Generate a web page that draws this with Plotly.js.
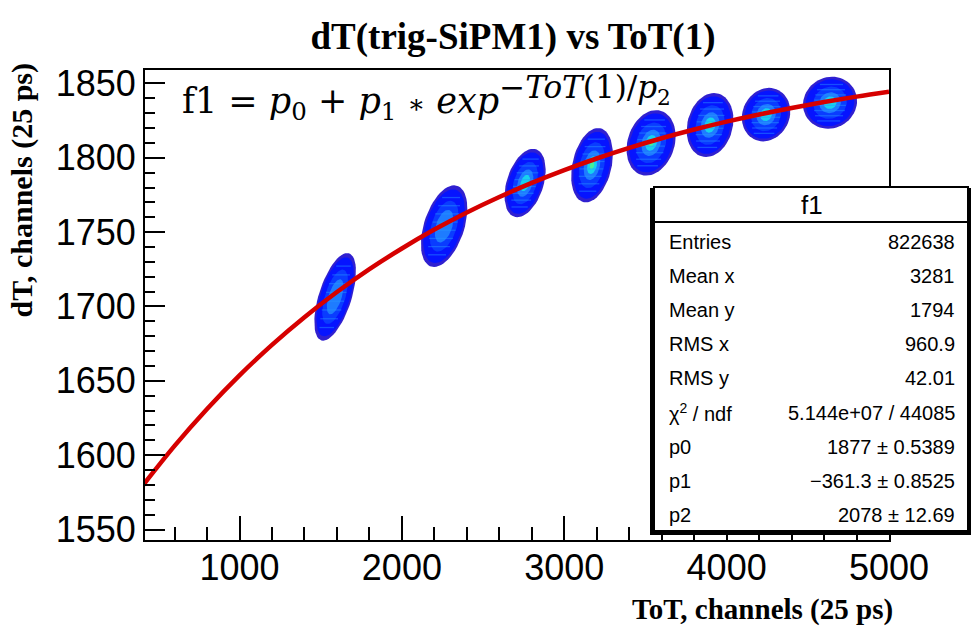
<!DOCTYPE html>
<html>
<head>
<meta charset="utf-8">
<script src="https://cdn.plot.ly/plotly-3.0.1.min.js"></script>
<style>html,body{margin:0;padding:0;background:#fff;}#chart{width:971px;height:630px;}</style>
</head>
<body>
<div id="chart"></div>
<script>
// ---- data ----
const fitX = [400, 600, 800, 1000, 1200, 1400, 1600, 1800, 2000, 2200, 2400, 2600, 2800, 3000, 3200, 3400, 3600, 3800, 4000, 4200, 4400, 4600, 4800, 5000];
const fitY = [1579.0, 1606.3, 1631.1, 1653.7, 1674.2, 1692.8, 1709.7, 1725.1, 1739.0, 1751.7, 1763.2, 1773.6, 1783.1, 1791.7, 1799.5, 1806.6, 1813.1, 1819.0, 1824.3, 1829.1, 1833.5, 1837.5, 1841.1, 1844.4];

// clusters of the 2D histogram
const clusterX = [1589, 2260, 2759, 3171, 3535, 3898, 4243, 4637];
const clusterY = [1706.5, 1754, 1783, 1795, 1810, 1822, 1829, 1837];
const clusterHalfW = [105, 129, 117, 123, 148, 142, 148, 166];
const clusterHalfH = [29.5, 27.5, 23, 25, 22, 21.5, 18, 17.5];
const clusterTilt = [2.5, 2.25, 2.1, 1.5, 1.4, 1.15, 1.0, 0.7];
const clusterPeak = [3, 3, 4, 5, 5, 5, 4, 4];

const statLabels = ["Entries", "Mean x", "Mean y", "RMS x", "RMS y", "χ<sup>2</sup> / ndf", "p0", "p1", "p2"];
const statValues = ["822638", "3281", "1794", "960.9", "42.01", "5.144e+07 / 44085", "1877 ± 0.5389", "−361.3 ± 0.8525", "2078 ± 12.69"];

const xTicks = [1000, 2000, 3000, 4000, 5000];
const yTicks = [1550, 1600, 1650, 1700, 1750, 1800, 1850];

// ---- drawing ----
const layerScale = [1.0, 0.9, 0.62, 0.4, 0.24, 0.11];
const layerColor = ['#3020d0', '#0614ff', '#0a3cff', '#1e7cff', '#16d2ee', '#44f09a'];

const traces = [];
for (let c = 0; c < clusterX.length; c++) {
  for (let l = 0; l <= clusterPeak[c] && l < layerScale.length; l++) {
    const xs = [], ys = [];
    const k = layerScale[l];
    for (let i = 0; i <= 60; i++) {
      const t = 2 * Math.PI * i / 60;
      const dy = clusterHalfH[c] * k * Math.sin(t);
      const dx = clusterHalfW[c] * k * Math.cos(t) + clusterTilt[c] * dy;
      xs.push(clusterX[c] + dx);
      ys.push(clusterY[c] + dy);
    }
    traces.push({
      type: 'scatter', mode: 'lines', x: xs, y: ys, fill: 'toself',
      fillcolor: layerColor[l], line: {width: 0, color: layerColor[l]},
      hoverinfo: 'skip', showlegend: false
    });
  }
  // horizontal bin streaks of the histogram
  const sx = [], sy = [];
  const n = 8;
  for (let j = 0; j < n; j++) {
    const f = -0.7 + 1.4 * j / (n - 1);
    const dy = clusterHalfH[c] * f;
    const half = clusterHalfW[c] * Math.sqrt(1 - f * f) * 0.6;
    const cx = clusterX[c] + clusterTilt[c] * dy;
    sx.push(cx - half, cx + half, null);
    sy.push(clusterY[c] + dy, clusterY[c] + dy, null);
  }
  traces.push({
    type: 'scatter', mode: 'lines', x: sx, y: sy,
    line: {width: 1.3, color: 'rgba(40,150,255,0.45)'},
    hoverinfo: 'skip', showlegend: false
  });
}
traces.push({
  type: 'scatter', mode: 'lines', x: fitX, y: fitY,
  line: {color: '#d60000', width: 4.5, shape: 'spline'},
  hoverinfo: 'skip', showlegend: false
});

// stats box geometry in paper units
const L = 145, R = 889, T = 70, B = 540;
const px = v => (v - L) / (R - L);
const py = v => (B - v) / (B - T);

const shapes = [
  {type: 'rect', xref: 'paper', yref: 'paper', x0: px(650), x1: px(971), y0: py(535), y1: py(188),
   fillcolor: '#000', line: {width: 0}},
  {type: 'rect', xref: 'paper', yref: 'paper', x0: px(654), x1: px(968), y0: py(531), y1: py(187),
   fillcolor: '#fff', line: {width: 2, color: '#000'}},
  {type: 'line', xref: 'paper', yref: 'paper', x0: px(654), x1: px(968), y0: py(222), y1: py(222),
   line: {width: 2, color: '#000'}}
];

const sansF = 'Liberation Sans, Arial, sans-serif';
const serifF = 'Liberation Serif, Times New Roman, serif';
const annotations = [];
annotations.push({xref: 'paper', yref: 'paper', x: px(812), y: py(205), xanchor: 'center', yanchor: 'middle', text: 'f1',
  showarrow: false, font: {family: sansF, size: 26, color: '#000'}});
for (let i = 0; i < statLabels.length; i++) {
  const yy = py(242 + i * 34.1);
  annotations.push({xref: 'paper', yref: 'paper', x: px(667), y: yy, xanchor: 'left', yanchor: 'middle',
    text: statLabels[i], showarrow: false, font: {family: sansF, size: 20, color: '#000'}});
  annotations.push({xref: 'paper', yref: 'paper', x: px(957), y: yy, xanchor: 'right', yanchor: 'middle',
    text: statValues[i], showarrow: false, font: {family: sansF, size: 20, color: '#000'}});
}
annotations.push({xref: 'paper', yref: 'paper', x: px(180), y: py(98), xanchor: 'left', yanchor: 'middle',
  text: 'f1 = <i>p</i><sub>0</sub> + <i>p</i><sub>1</sub> <span style="font-size:26px">∗</span> <i>exp</i><sup><span style="font-size:31px">−<i>ToT</i>(1)/<i>p</i><sub>2</sub></span></sup>',
  showarrow: false, font: {family: 'DejaVu Serif, serif', size: 35, color: '#000'}});
annotations.push({xref: 'paper', yref: 'paper', x: px(895), y: py(609), xanchor: 'right', yanchor: 'middle',
  text: '<b>ToT, channels (25 ps)</b>', showarrow: false,
  font: {family: serifF, size: 29, color: '#000'}});
annotations.push({xref: 'paper', yref: 'paper', x: px(22), y: py(61), xanchor: 'center', yanchor: 'top',
  text: '<b>dT, channels (25 ps)</b>', textangle: -90, showarrow: false,
  font: {family: serifF, size: 30, color: '#000'}});

const layout = {
  width: 971, height: 630,
  margin: {l: L, r: 971 - R, t: T, b: 630 - B},
  paper_bgcolor: '#fff', plot_bgcolor: '#fff',
  title: {text: '<b>dT(trig-SiPM1) vs ToT(1)</b>', x: 513 / 971, xanchor: 'center', y: 1 - 36 / 630, yanchor: 'middle',
    font: {family: serifF, size: 37, color: '#000'}},
  xaxis: {range: [418, 5000], tickvals: xTicks, ticktext: xTicks.map(String),
    ticks: 'inside', ticklen: 24, tickwidth: 2, tickcolor: '#000', ticklabelstandoff: -5,
    minor: {ticks: 'inside', ticklen: 13, tickwidth: 2, tickcolor: '#000', dtick: 200, tick0: 0, showgrid: false},
    showline: true, linecolor: '#000', linewidth: 2, mirror: true, showgrid: false, zeroline: false,
    tickfont: {family: sansF, size: 36, color: '#000'}},
  yaxis: {range: [1543, 1859], tickvals: yTicks, ticktext: yTicks.map(String),
    ticks: 'inside', ticklen: 20, tickwidth: 2, tickcolor: '#000',
    minor: {ticks: 'inside', ticklen: 10, tickwidth: 2, tickcolor: '#000', dtick: 10, tick0: 0, showgrid: false},
    showline: true, linecolor: '#000', linewidth: 2, mirror: true, showgrid: false, zeroline: false,
    tickfont: {family: sansF, size: 36, color: '#000'}},
  shapes: shapes,
  annotations: annotations,
  showlegend: false
};

Plotly.newPlot('chart', traces, layout, {displayModeBar: false, staticPlot: true});
</script>
</body>
</html>
